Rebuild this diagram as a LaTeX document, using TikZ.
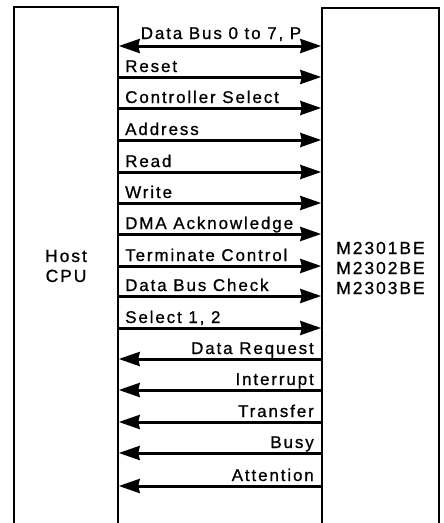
\documentclass[tikz,border=0pt]{standalone}
\usepackage{fontspec}
\setmainfont{Liberation Sans}[LetterSpace=11, FakeBold=0.8]
\usetikzlibrary{arrows.meta}
\begin{document}
\begin{tikzpicture}[x=1pt,y=-1pt,
  box/.style={draw, line width=1.4pt, inner sep=0pt, align=center, font=\fontsize{17.5}{20}\selectfont},
  sig/.style={line width=3pt, -{Stealth[length=21pt,width=14pt,inset=1.5pt]}},
  bisig/.style={line width=3pt, {Stealth[length=21pt,width=14pt,inset=1.5pt]}-{Stealth[length=21pt,width=14pt,inset=1.5pt]}},
  lab/.style={font=\fontsize{17}{19}\selectfont, inner sep=0pt}]
\useasboundingbox (0,0) rectangle (444,523);
\fill[white] (0,0) rectangle (444,523);
\node[box, minimum width=104pt, minimum height=518pt] (host) at (66,266) {Host\\CPU};
\node[box, minimum width=117pt, minimum height=520pt] (dev) at (380.5,268) {M2301BE\\M2302BE\\M2303BE};
% bidirectional data bus
\draw[bisig] (host.east |- 0,46) -- (dev.west |- 0,46);
\node[lab, anchor=base] (db) at (221,39) {Data Bus 0 to 7, P};
% host to device
\foreach \y/\t [count=\i] in {77/Reset, 108/Controller Select, 140/Address, 172/Read, 203/Write, 234/DMA Acknowledge, 266/Terminate Control, 296/Data Bus Check, 328/{Select 1, 2}} {
  \draw[sig] (host.east |- 0,\y) -- (dev.west |- 0,\y);
  \node[lab, anchor=base west] (f\i) at (125,\y-5) {\t};
}
% device to host
\foreach \y/\t [count=\i] in {359/Data Request, 390/Interrupt, 422/Transfer, 453/Busy, 486/Attention} {
  \draw[sig] (dev.west |- 0,\y) -- (host.east |- 0,\y);
  \node[lab, anchor=base east] (b\i) at (314,\y-5) {\t};
}
\end{tikzpicture}
\end{document}
